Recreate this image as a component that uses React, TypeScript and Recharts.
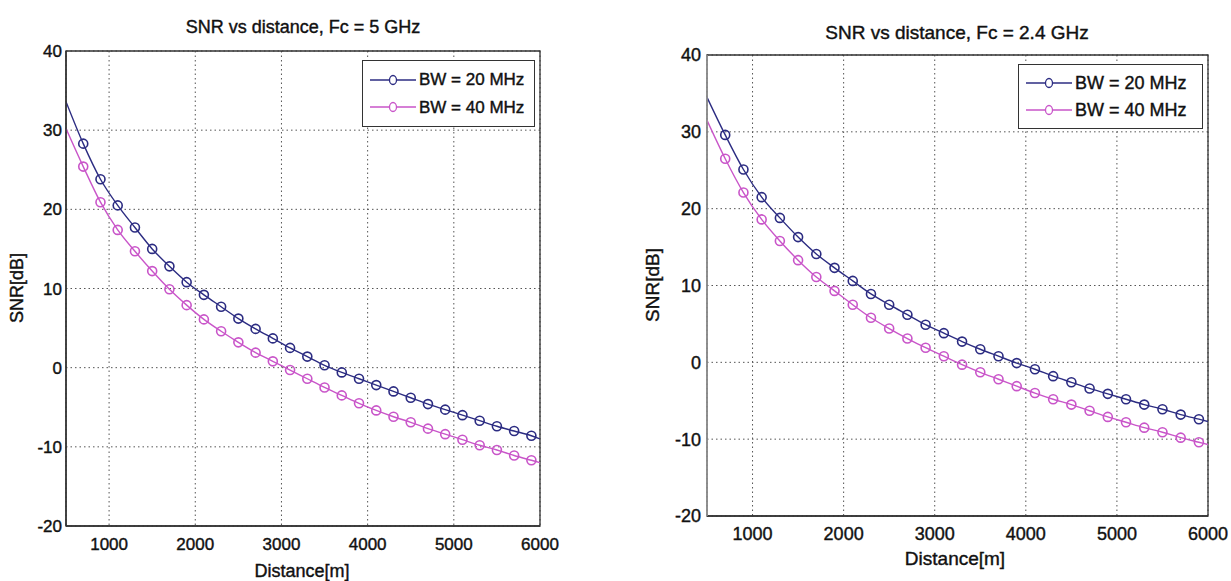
import React from "react";
import {
  LineChart,
  Line,
  XAxis,
  YAxis,
  CartesianGrid,
  ReferenceArea,
  Legend,
} from "recharts";

// distance samples in metres (markers every 200 m, line starts at 500 and ends at 6000)
const distance = [
  500, 700, 900, 1100, 1300, 1500, 1700, 1900, 2100, 2300, 2500, 2700, 2900,
  3100, 3300, 3500, 3700, 3900, 4100, 4300, 4500, 4700, 4900, 5100, 5300, 5500,
  5700, 5900, 6000,
];

const xTicks = [1000, 2000, 3000, 4000, 5000, 6000];
const yTicks = [-20, -10, 0, 10, 20, 30, 40];

// Fc = 5 GHz
const snr5Bw20 = [
  33.6, 28.3, 23.8, 20.5, 17.7, 15.0, 12.8, 10.8, 9.2, 7.7, 6.2, 4.9, 3.7, 2.5,
  1.4, 0.3, -0.6, -1.4, -2.2, -3.0, -3.8, -4.6, -5.3, -6.0, -6.7, -7.4, -8.0,
  -8.6, -9.0,
];
const snr5Bw40 = [
  30.2, 25.4, 20.9, 17.4, 14.7, 12.2, 9.9, 7.9, 6.1, 4.6, 3.2, 1.9, 0.8, -0.3,
  -1.4, -2.5, -3.5, -4.5, -5.4, -6.2, -6.9, -7.7, -8.4, -9.1, -9.8, -10.4,
  -11.1, -11.7, -12.0,
];

// Fc = 2.4 GHz
const snr24Bw20 = [
  34.5, 29.6, 25.1, 21.5, 18.8, 16.3, 14.1, 12.3, 10.6, 8.9, 7.5, 6.2, 4.9, 3.8,
  2.7, 1.7, 0.8, -0.1, -0.9, -1.8, -2.6, -3.4, -4.1, -4.8, -5.5, -6.1, -6.8,
  -7.4, -7.7,
];
const snr24Bw40 = [
  31.5, 26.5, 22.1, 18.6, 15.8, 13.3, 11.1, 9.3, 7.5, 5.8, 4.4, 3.1, 1.9, 0.8,
  -0.3, -1.3, -2.2, -3.1, -4.0, -4.8, -5.5, -6.3, -7.1, -7.8, -8.5, -9.1, -9.8,
  -10.4, -10.7,
];

const seriesNames = ["BW = 20 MHz", "BW = 40 MHz"];

const NAVY = "#2c2c82";
const MAGENTA = "#c955c9";
const colors = [NAVY, MAGENTA];
const FONT = "'Liberation Sans', Arial, Helvetica, sans-serif";

const makeDot = (color: string) => (props: any) => {
  const { cx, cy, payload, index } = props;
  if (payload.distance === 500 || payload.distance === 6000) {
    return <g key={`d${index}`} />;
  }
  return (
    <circle
      key={`d${index}`}
      cx={cx}
      cy={cy}
      r={4.5}
      fill="none"
      stroke={color}
      strokeWidth={1.6}
    />
  );
};

const legendContent = (font: number) => () => (
  <div
    style={{
      width: "100%",
      height: "100%",
      boxSizing: "border-box",
      border: "1.5px solid #333",
      background: "#fff",
      display: "flex",
      flexDirection: "column",
      justifyContent: "space-evenly",
      paddingLeft: 7,
    }}
  >
    {seriesNames.map((name, i) => (
      <div key={name} style={{ display: "flex", alignItems: "center" }}>
        <svg width={46} height={14}>
          <line x1={0} y1={7} x2={46} y2={7} stroke={colors[i]} strokeWidth={1.3} />
          <ellipse cx={23} cy={7} rx={3.5} ry={4.5} fill="#fff" stroke={colors[i]} strokeWidth={1.3} />
        </svg>
        <span
          style={{
            marginLeft: 3,
            fontSize: font,
            lineHeight: 1,
            color: "#111",
            fontFamily: FONT,
            WebkitTextStroke: "0.4px #111",
          }}
        >
          {name}
        </span>
      </div>
    ))}
  </div>
);

type PanelProps = {
  left: number;
  width: number;
  margin: { top: number; right: number; bottom: number; left: number };
  xAxisHeight: number;
  tickFont: number;
  xTickMargin: number;
  yTickMargin: number;
  bw20: number[];
  bw40: number[];
  legend: { left: number; top: number; width: number; height: number; font: number };
  leftAxisColor: string;
};

function SnrPanel(p: PanelProps) {
  const data = distance.map((d, i) => ({ distance: d, bw20: p.bw20[i], bw40: p.bw40[i] }));
  const tick = {
    fontSize: p.tickFont,
    fill: "#111",
    fontFamily: FONT,
    stroke: "#111",
    strokeWidth: 0.4,
  };
  return (
    <div style={{ position: "absolute", left: p.left, top: 0 }}>
      <LineChart width={p.width} height={581} data={data} margin={p.margin}>
        <CartesianGrid stroke="#555" strokeDasharray="1.5 3" />
        <XAxis
          type="number"
          dataKey="distance"
          domain={[500, 6000]}
          ticks={xTicks}
          interval={0}
          allowDataOverflow
          height={p.xAxisHeight}
          tickLine={false}
          tickSize={0}
          tickMargin={p.xTickMargin}
          tick={tick}
          axisLine={{ stroke: "#333", strokeWidth: 1.5 }}
        />
        <YAxis
          type="number"
          domain={[-20, 40]}
          ticks={yTicks}
          interval={0}
          allowDataOverflow
          width={66}
          tickLine={false}
          tickSize={0}
          tickMargin={p.yTickMargin}
          tick={tick}
          axisLine={{ stroke: p.leftAxisColor, strokeWidth: 1.5 }}
        />
        <ReferenceArea
          x1={500}
          x2={6000}
          y1={-20}
          y2={40}
          fill="none"
          stroke="#333"
          strokeWidth={1.3}
          ifOverflow="visible"
        />
        <Line
          type="monotone"
          dataKey="bw40"
          name={seriesNames[1]}
          stroke={MAGENTA}
          strokeWidth={1.4}
          dot={makeDot(MAGENTA)}
          isAnimationActive={false}
        />
        <Line
          type="monotone"
          dataKey="bw20"
          name={seriesNames[0]}
          stroke={NAVY}
          strokeWidth={1.4}
          dot={makeDot(NAVY)}
          isAnimationActive={false}
        />
        <Legend
          layout="vertical"
          align="center"
          verticalAlign="middle"
          content={legendContent(p.legend.font)}
          wrapperStyle={{
            left: p.legend.left,
            top: p.legend.top,
            width: p.legend.width,
            height: p.legend.height,
          }}
        />
      </LineChart>
    </div>
  );
}

const textBase: React.CSSProperties = {
  position: "absolute",
  fontFamily: FONT,
  color: "#111",
  lineHeight: 1,
  whiteSpace: "nowrap",
  WebkitTextStroke: "0.4px #111",
};

export default function App() {
  return (
    <div
      style={{
        position: "absolute",
        left: 0,
        top: 0,
        width: 1231,
        height: 581,
        background: "#fff",
        overflow: "hidden",
      }}
    >
      <SnrPanel
        left={0}
        width={600}
        margin={{ top: 51, right: 60, bottom: 0, left: 0 }}
        xAxisHeight={55}
        tickFont={17}
        xTickMargin={12}
        yTickMargin={4}
        bw20={snr5Bw20}
        bw40={snr5Bw40}
        legend={{ left: 362, top: 60, width: 173, height: 67, font: 17 }}
        leftAxisColor="#333"
      />
      <SnrPanel
        left={620}
        width={611}
        margin={{ top: 55, right: 23, bottom: 0, left: 21 }}
        xAxisHeight={65}
        tickFont={18}
        xTickMargin={11}
        yTickMargin={6}
        bw20={snr24Bw20}
        bw40={snr24Bw40}
        legend={{ left: 398, top: 64, width: 185, height: 65, font: 18 }}
        leftAxisColor="#999"
      />

      <div style={{ ...textBase, fontSize: 18, left: 303, top: 18, transform: "translateX(-50%)" }}>
        SNR vs distance, Fc = 5 GHz
      </div>
      <div style={{ ...textBase, fontSize: 19, left: 957, top: 23, transform: "translateX(-50%)" }}>
        SNR vs distance, Fc = 2.4 GHz
      </div>

      <div style={{ ...textBase, fontSize: 18, left: 302, top: 562, transform: "translateX(-50%)" }}>
        Distance[m]
      </div>
      <div style={{ ...textBase, fontSize: 19, left: 955, top: 549, transform: "translateX(-50%)" }}>
        Distance[m]
      </div>

      <div
        style={{
          ...textBase,
          fontSize: 18,
          left: 17,
          top: 288,
          transform: "translate(-50%, -50%) rotate(-90deg)",
        }}
      >
        SNR[dB]
      </div>
      <div
        style={{
          ...textBase,
          fontSize: 19,
          left: 652,
          top: 285,
          transform: "translate(-50%, -50%) rotate(-90deg)",
        }}
      >
        SNR[dB]
      </div>
    </div>
  );
}
